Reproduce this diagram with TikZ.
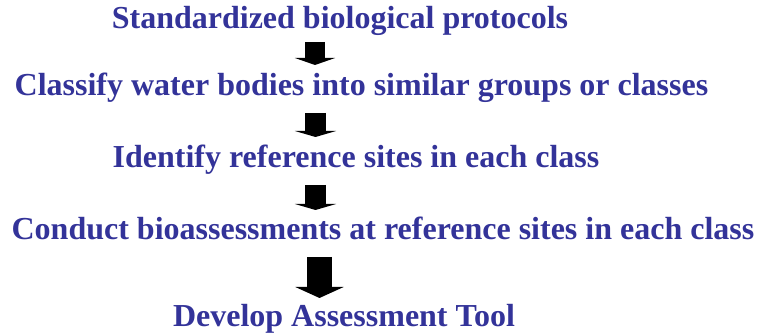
\documentclass[tikz,border=0pt]{standalone}
\usepackage{fontspec}
\setmainfont{Liberation Serif}
\usetikzlibrary{arrows.meta}
\definecolor{stepblue}{RGB}{51,51,153}
\begin{document}
\begin{tikzpicture}[x=1pt,y=1pt,
  steptext/.style={anchor=base,inner sep=0pt,text=stepblue,
    font=\fontsize{32}{36}\selectfont\bfseries},
  blockarrow/.style={line width=#1,line cap=butt,black}]
\useasboundingbox (0,0) rectangle (758,334);
\node[steptext] (s1) at (340,305) {Standardized biological protocols};
\node[steptext] (s2) at (361.5,238) {Classify water bodies into similar groups or classes};
\node[steptext] (s3) at (356,166) {Identify reference sites in each class};
\node[steptext] (s4) at (383,94) {Conduct bioassessments at reference sites in each class};
\node[steptext] (s5) at (344,7) {Develop Assessment Tool};
% block arrows between the steps
\coordinate (a1s) at (315,292); \coordinate (a1e) at (315,269);
\coordinate (a2s) at (315.5,221); \coordinate (a2e) at (315.5,197);
\coordinate (a3s) at (315.5,149); \coordinate (a3e) at (315.5,124);
\coordinate (a4s) at (319.5,77); \coordinate (a4e) at (319.5,36);
\draw[blockarrow=20pt,-{Triangle[width=40pt,length=7pt]}] (a1s) -- (a1e);
\draw[blockarrow=21pt,-{Triangle[width=41pt,length=6pt]}] (a2s) -- (a2e);
\draw[blockarrow=21pt,-{Triangle[width=41pt,length=6pt]}] (a3s) -- (a3e);
\draw[blockarrow=25pt,-{Triangle[width=48pt,length=11pt]}] (a4s) -- (a4e);
\end{tikzpicture}
\end{document}
